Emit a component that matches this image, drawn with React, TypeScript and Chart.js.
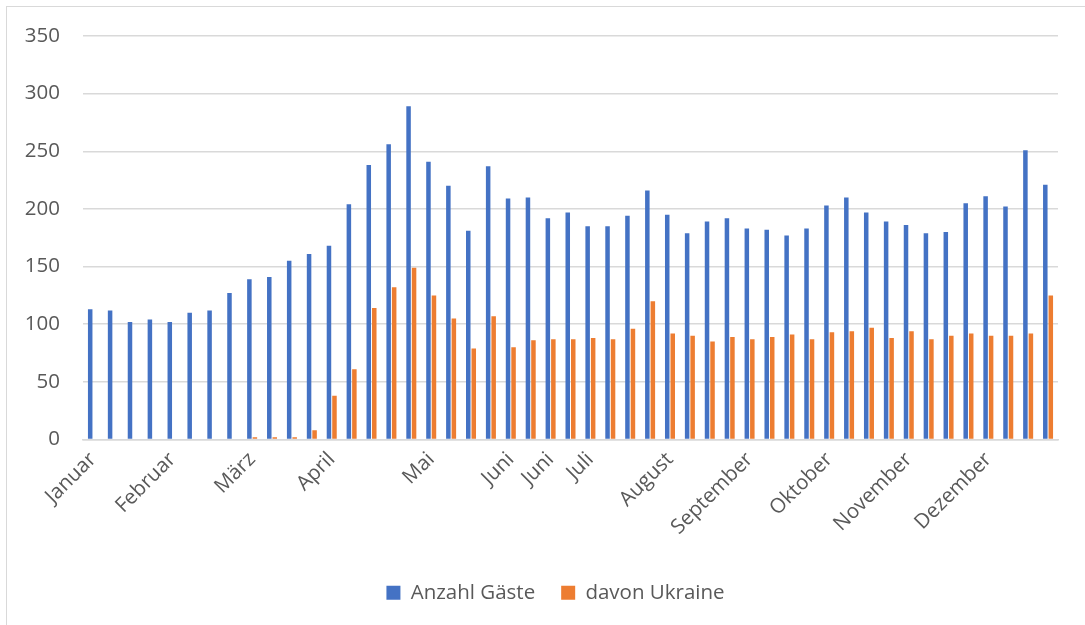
import React, { useEffect, useRef } from "react";
import { Chart, registerables } from "chart.js";

Chart.register(...registerables);

const categories: string[] = [
  "Januar", "", "", "",
  "Februar", "", "", "",
  "März", "", "", "",
  "April", "", "", "", "",
  "Mai", "", "", "",
  "Juni", "",
  "Juni", "",
  "Juli", "", "", "",
  "August", "", "", "",
  "September", "", "", "",
  "Oktober", "", "", "",
  "November", "", "", "",
  "Dezember", "", "", "",
];

const anzahlGaeste: number[] = [
  113, 112, 102, 104, 102, 110, 112, 127, 139, 141, 155, 161, 168, 204,
  238, 256, 289, 241, 220, 181, 237, 209, 210, 192, 197, 185, 185, 194, 216, 195, 179,
  189, 192, 183, 182, 177, 183, 203, 210, 197, 189, 186, 179, 180, 205, 211, 202, 251, 221,
];

const davonUkraine: number[] = [
  0, 0, 0, 0, 0, 0, 0, 0, 2, 2, 2, 8, 38, 61,
  114, 132, 149, 125, 105, 79, 107, 80, 86, 87, 87, 88, 87, 96, 120, 92, 90,
  85, 89, 87, 89, 91, 87, 93, 94, 97, 88, 94, 87, 90, 92, 90, 90, 92, 125,
];

const seriesNames = ["Anzahl Gäste", "davon Ukraine"];
const yTicks = [0, 50, 100, 150, 200, 250, 300, 350];

export default function App() {
  const canvasRef = useRef<HTMLCanvasElement | null>(null);

  useEffect(() => {
    if (!canvasRef.current) return;
    const textColor = "#595959";
    const font = { family: "'Open Sans', sans-serif", size: 20.5 };
    const legendShift = {
      id: "legendShift",
      afterLayout(chart: any) {
        if (chart.legend) {
          chart.legend.left += 28;
        }
      },
    };
    const chart = new Chart(canvasRef.current, {
      type: "bar",
      data: {
        labels: categories,
        datasets: [
          {
            label: seriesNames[0],
            data: anzahlGaeste,
            backgroundColor: "#4472C4",
            categoryPercentage: 0.553,
            barPercentage: 0.82,
          },
          {
            label: seriesNames[1],
            data: davonUkraine,
            backgroundColor: "#ED7D31",
            categoryPercentage: 0.553,
            barPercentage: 0.82,
          },
        ],
      },
      plugins: [legendShift],
      options: {
        responsive: false,
        animation: false,
        devicePixelRatio: 1,
        layout: { padding: { top: 36, left: 25, right: 27, bottom: 12 } },
        plugins: {
          tooltip: { enabled: false },
          legend: {
            position: "bottom",
            labels: {
              boxWidth: 14,
              boxHeight: 14,
              color: textColor,
              font,
              padding: 26,
            },
          },
        },
        scales: {
          x: {
            grid: { display: false, drawTicks: false },
            border: { display: true, color: "#D9D9D9", width: 1.5 },
            ticks: {
              autoSkip: false,
              maxRotation: 45,
              minRotation: 45,
              color: textColor,
              font,
              padding: 8,
            },
            afterFit: (scale: any) => {
              scale.height = 117;
              scale.paddingLeft = 0;
              scale.paddingRight = 0;
            },
          },
          y: {
            min: 0,
            max: 350,
            afterBuildTicks: (scale: any) => {
              scale.ticks = yTicks.map((v) => ({ value: v }));
            },
            afterFit: (scale: any) => {
              scale.width = 58;
            },
            grid: { color: "#D9D9D9", lineWidth: 1.5, drawTicks: false },
            border: { display: false },
            ticks: { color: textColor, font, padding: 23 },
          },
        },
      },
    });
    return () => chart.destroy();
  }, []);

  return (
    <div>
      <div
        style={{
          position: "absolute",
          left: 6,
          top: 6,
          width: 1200,
          height: 700,
          borderLeft: "1.5px solid #D9D9D9",
          borderTop: "1.5px solid #D9D9D9",
        }}
      />
      <canvas
        ref={canvasRef}
        width={1085}
        height={625}
        style={{ position: "absolute", left: 0, top: 0, width: 1085, height: 625 }}
      />
    </div>
  );
}
